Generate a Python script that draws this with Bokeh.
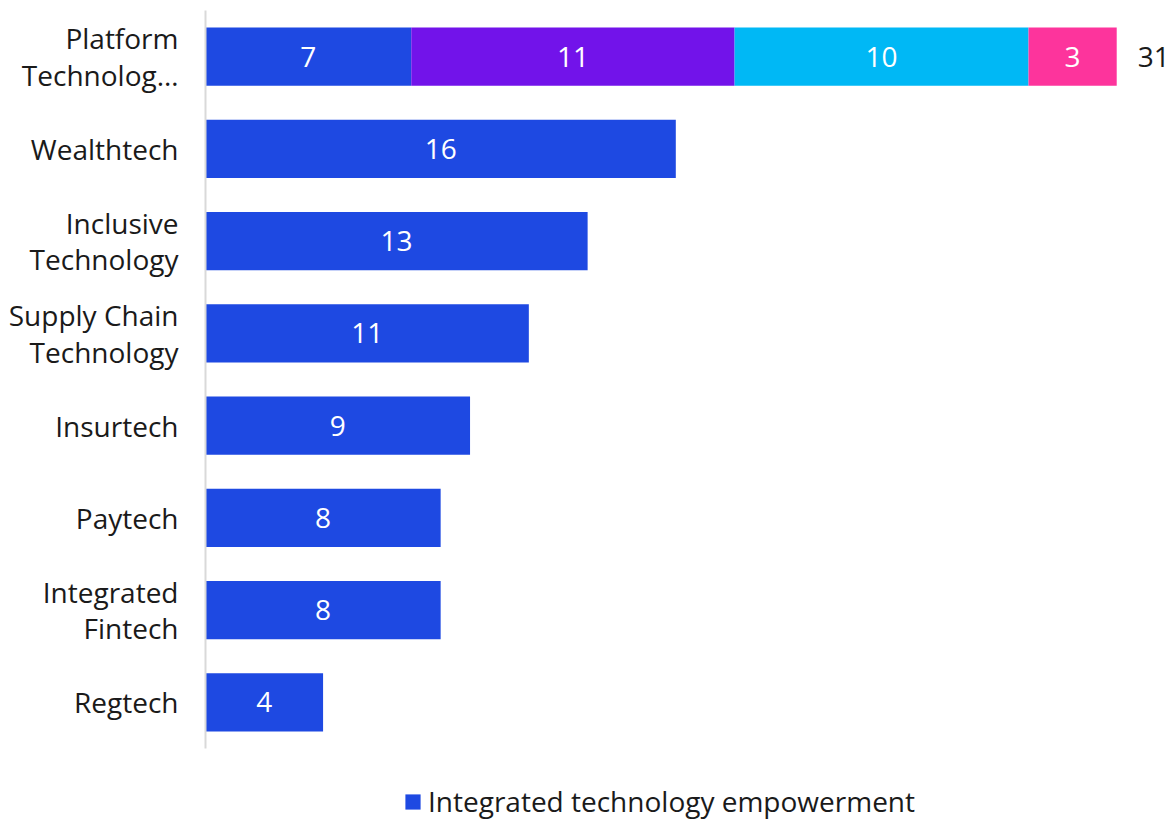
from bokeh.plotting import figure
from bokeh.layouts import column
from bokeh.models import FactorRange, Range1d, ColumnDataSource, Legend, LegendItem
from bokeh.core.properties import value
from bokeh.embed import file_html
from bokeh.resources import INLINE

categories = ["Platform\nTechnolog…", "Wealthtech", "Inclusive\nTechnology",
              "Supply Chain\nTechnology", "Insurtech", "Paytech",
              "Integrated\nFintech", "Regtech"]
integrated = [7, 16, 13, 11, 9, 8, 8, 4]
series_b = [11, 0, 0, 0, 0, 0, 0, 0]
series_c = [10, 0, 0, 0, 0, 0, 0, 0]
series_d = [3, 0, 0, 0, 0, 0, 0, 0]
totals = [31, None, None, None, None, None, None, None]
series_names = ["Integrated technology empowerment", "b", "c", "d"]
colors = ["#1E49E2", "#7213EA", "#00B8F5", "#FD349C"]

FONT = "Open Sans"
FS = "28px"

p = figure(y_range=FactorRange(factors=list(reversed(categories))),
           x_range=Range1d(0, 33), output_backend="svg", toolbar_location=None,
           width=1175, height=750,
           min_border_left=205, min_border_right=0, min_border_top=10,
           min_border_bottom=2)

src = ColumnDataSource(dict(cat=categories, a=integrated, b=series_b, c=series_c, d=series_d))
rends = p.hbar_stack(["a", "b", "c", "d"], y="cat", height=0.63, color=colors,
                     line_color=None, source=src)

# segment value labels
lx, ly, lt = [], [], []
all_series = [integrated, series_b, series_c, series_d]
for i, cat in enumerate(categories):
    left = 0
    for s in all_series:
        v = s[i]
        if v:
            lx.append(left + v / 2)
            ly.append(cat)
            lt.append(str(v))
        left += v
p.text(x=lx, y=ly, text=lt, text_color="white", text_align="center",
       text_baseline="middle", text_font=value(FONT), text_font_size=FS)

tx = [t for t in totals if t is not None]
ty = [c for c, t in zip(categories, totals) if t is not None]
p.text(x=tx, y=ty, text=[str(t) for t in tx], text_color="#1a1a1a",
       text_align="left", text_baseline="middle", x_offset=21,
       text_font=value(FONT), text_font_size=FS)

p.xaxis.visible = False
p.yaxis.axis_line_color = "#D9D9D9"
p.yaxis.axis_line_width = 2
p.yaxis.major_tick_line_color = None
p.yaxis.minor_tick_line_color = None
p.yaxis.major_label_text_font = FONT
p.yaxis.major_label_text_font_size = FS
p.yaxis.major_label_text_color = "#1a1a1a"
p.yaxis.major_label_standoff = 21
p.yaxis.major_label_text_line_height = 0.96
p.xgrid.visible = False
p.ygrid.visible = False
p.outline_line_color = None

# legend strip below the chart (its placeholder bar lies outside the visible range)
lg = figure(width=1175, height=70, output_backend="svg", toolbar_location=None,
            x_range=Range1d(0, 1), y_range=Range1d(0, 1),
            min_border_left=0, min_border_right=0, min_border_top=0, min_border_bottom=0)
lg.xaxis.visible = False
lg.yaxis.visible = False
lg.xgrid.visible = False
lg.ygrid.visible = False
lg.outline_line_color = None
dummy = lg.hbar(y=[-5], right=[0.5], height=0.1, color=colors[0], line_color=None)

legend = Legend(items=[LegendItem(label=series_names[0], renderers=[dummy])],
                location=(198, 0), orientation="horizontal",
                label_text_font=FONT, label_text_font_size=FS, label_text_color="#1a1a1a",
                glyph_width=19, glyph_height=19, label_standoff=6,
                border_line_color=None, background_fill_alpha=0,
                margin=0, padding=2)
lg.add_layout(legend, "center")

layout = column(p, lg, spacing=0)
open("out.html", "w").write(file_html(layout, INLINE))
